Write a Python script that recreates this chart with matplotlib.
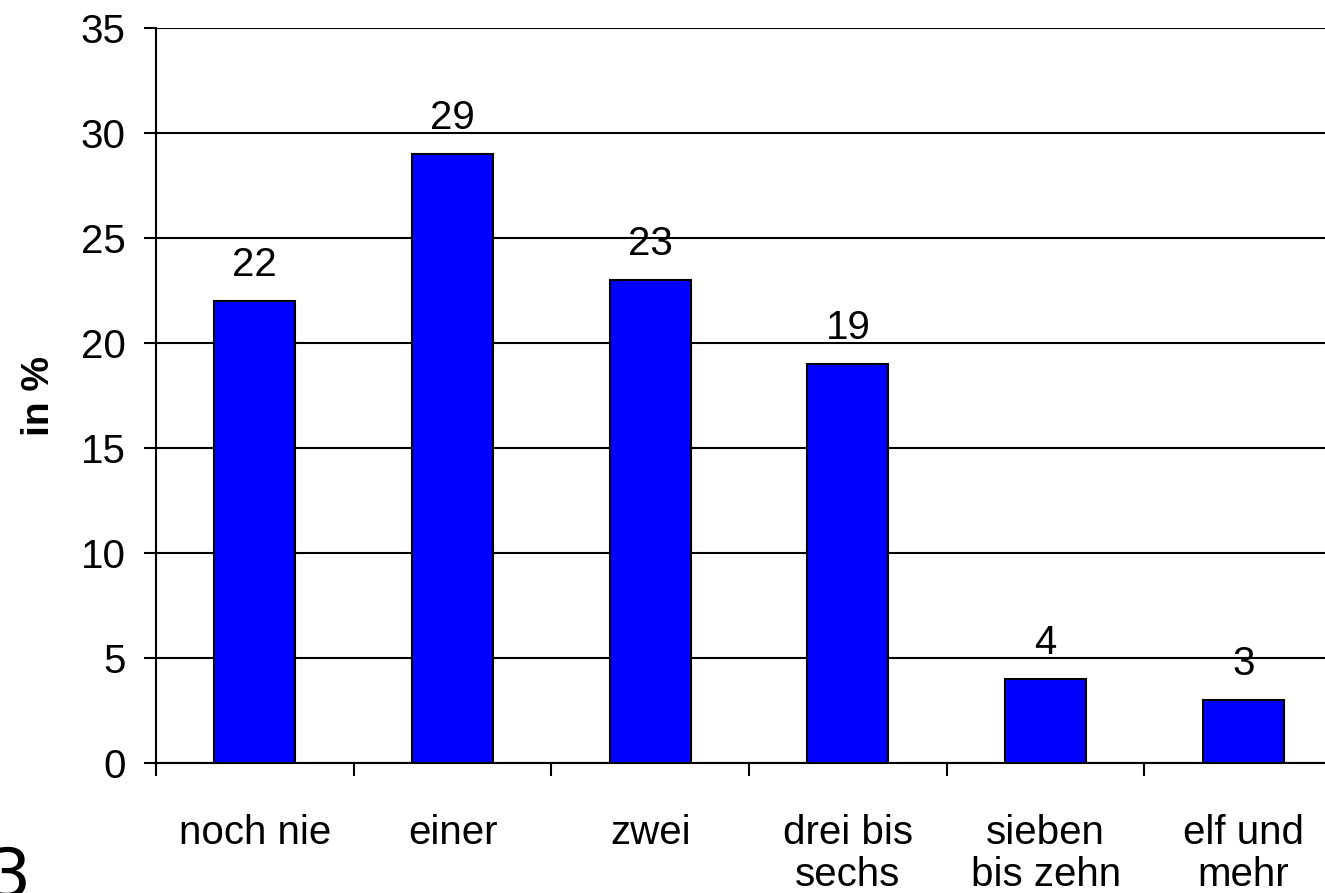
import matplotlib
matplotlib.use("Agg")
import matplotlib.pyplot as plt
import numpy as np

categories = ["noch nie", "einer", "zwei", "drei bis\nsechs", "sieben\nbis zehn", "elf und\nmehr"]
values = [22, 29, 23, 19, 4, 3]
y_ticks = [0, 5, 10, 15, 20, 25, 30, 35]

plt.rcParams["font.family"] = ["Liberation Sans", "DejaVu Sans"]

W, H = 1325, 893
fig = plt.figure(figsize=(W / 100, H / 100), dpi=100)
ax = fig.add_axes([156 / W, (H - 763) / H, 6 * 197.7 / W, 735 / H])

x = np.arange(len(categories))
bars = ax.bar(x, values, width=0.41, color="#0000ff", edgecolor="black",
              linewidth=1.5, zorder=3)

# value labels above each bar
for xi, v in zip(x, values):
    ax.annotate(str(v), (xi, v), textcoords="offset points", xytext=(0, 18),
                ha="center", va="baseline", fontsize=29)

ax.set_xlim(-0.5, len(categories) - 0.5)
ax.set_ylim(0, 35)
ax.set_yticks(y_ticks)
ax.set_yticklabels([str(t) for t in y_ticks], fontsize=29)
ax.yaxis.grid(True, color="black", linewidth=1.5, zorder=0)
ax.set_axisbelow(True)

ax.set_xticks(x)
ax.set_xticklabels(categories, fontsize=29, linespacing=1.12)
ax.set_xticks(np.arange(len(categories) + 1) - 0.5, minor=True)
ax.tick_params(axis="x", which="major", length=0, pad=37)
ax.tick_params(axis="x", which="minor", length=9, width=1.5, direction="out")
ax.tick_params(axis="y", length=9, width=1.5, direction="out", pad=13)

for side in ["top", "right"]:
    ax.spines[side].set_visible(False)
for side in ["left", "bottom"]:
    ax.spines[side].set_linewidth(1.5)

ax.set_ylabel("in %", fontsize=28, fontweight="bold", labelpad=17)

# page number at bottom-left corner
fig.text(-12 / W, 1 - 845 / H, "3", fontsize=49, family="DejaVu Sans",
         ha="left", va="top")

fig.savefig("out.png", dpi=100)
